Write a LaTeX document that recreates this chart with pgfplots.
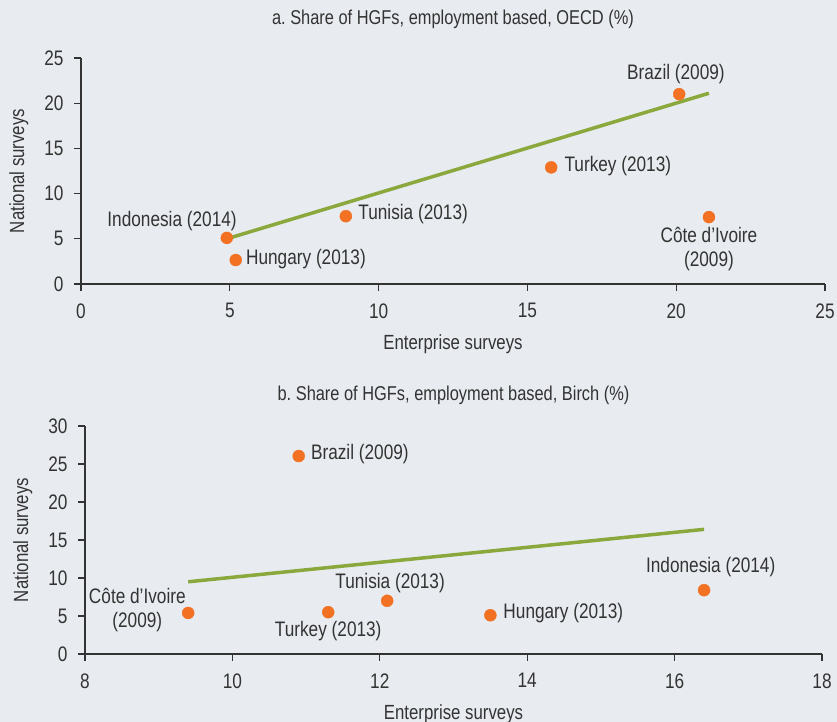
\documentclass[border=0pt]{standalone}
\usepackage{pgfplots}
\pgfplotsset{compat=1.18}
\usepackage{fontspec}
\setmainfont{Liberation Sans}[FakeStretch=0.82]
\frenchspacing

\definecolor{bgc}{RGB}{232,235,240}
\definecolor{dot}{RGB}{242,113,35}
\definecolor{trend}{RGB}{138,168,60}
\definecolor{ink}{RGB}{51,51,51}

\tikzset{lbl/.style={font=\fontsize{21}{24}\selectfont, text=ink, align=center}}

\pgfplotsset{
  hgf/.style={
    scale only axis,
    axis lines*=left,
    axis line style={-, ink, line width=1.3pt},
    tick style={ink, line width=1.3pt},
    tick align=outside,
    major tick length=7pt,
    tick label style={font=\fontsize{21}{23}\selectfont, text=ink},
    xticklabel style={yshift=-9pt},
    yticklabel style={xshift=-7pt},
    label style={font=\fontsize{20.5}{23}\selectfont, text=ink},
    title style={font=\fontsize{20}{22}\selectfont, text=ink},
    xlabel style={yshift=-9pt},
    ylabel style={yshift=9pt},
    /pgf/number format/assume math mode=true,
    clip=false,
  },
}

\pgfplotstableread{
x y
4.9 5.1
5.2 2.65
8.9 7.5
15.8 12.9
20.1 21.0
21.1 7.4
}\oecd

\pgfplotstableread{
x y
9.4 5.4
10.9 26.05
11.3 5.5
12.1 7.0
13.5 5.1
16.4 8.4
}\birch

\begin{document}
\begin{tikzpicture}[x=1pt,y=1pt]
\fill[bgc] (0,0) rectangle (837,722);

\begin{axis}[hgf,
  at={(81pt,438pt)}, anchor=origin,
  width=744pt, height=226pt,
  xmin=0, xmax=25, ymin=0, ymax=25,
  xtick={0,5,...,25}, ytick={0,5,...,25},
  title={a. Share of HGFs, employment based, OECD (\%)},
  title style={at={(0.5,1)}, yshift=20pt},
  xlabel={Enterprise surveys}, ylabel={National surveys},
]
\addplot[trend, line width=3.5pt] coordinates {(4.9,5.0) (21.1,21.1)};
\addplot[only marks, mark=*, mark size=6pt, dot, mark options={draw=none, fill=dot}] table {\oecd};
\node[lbl] at (axis cs:3.06,6.97) {Indonesia (2014)};
\node[lbl] at (axis cs:7.56,2.77) {Hungary (2013)};
\node[lbl] at (axis cs:11.16,7.74) {Tunisia (2013)};
\node[lbl] at (axis cs:18.04,13.05) {Turkey (2013)};
\node[lbl] at (axis cs:19.99,23.23) {Brazil (2009)};
\node[lbl] at (axis cs:21.1,3.87) {Côte d’Ivoire\\(2009)};
\end{axis}

\begin{axis}[hgf,
  at={(85pt,68pt)}, anchor=origin,
  width=737pt, height=228pt,
  xmin=8, xmax=18, ymin=0, ymax=30,
  xtick={8,10,...,18}, ytick={0,5,...,30},
  title={b. Share of HGFs, employment based, Birch (\%)},
  title style={at={(0.5,1)}, yshift=12pt},
  xlabel={Enterprise surveys}, ylabel={National surveys},
]
\addplot[trend, line width=3.5pt] coordinates {(9.4,9.5) (16.4,16.4)};
\addplot[only marks, mark=*, mark size=6pt, dot, mark options={draw=none, fill=dot}] table {\birch};
\node[lbl] at (axis cs:11.73,26.3) {Brazil (2009)};
\node[lbl] at (axis cs:8.71,5.79) {Côte d’Ivoire\\(2009)};
\node[lbl] at (axis cs:11.30,3.03) {Turkey (2013)};
\node[lbl] at (axis cs:12.14,9.34) {Tunisia (2013)};
\node[lbl] at (axis cs:14.49,5.39) {Hungary (2013)};
\node[lbl] at (axis cs:16.49,11.45) {Indonesia (2014)};
\end{axis}

\pgfresetboundingbox
\useasboundingbox (0,0) rectangle (837,722);
\end{tikzpicture}
\end{document}
